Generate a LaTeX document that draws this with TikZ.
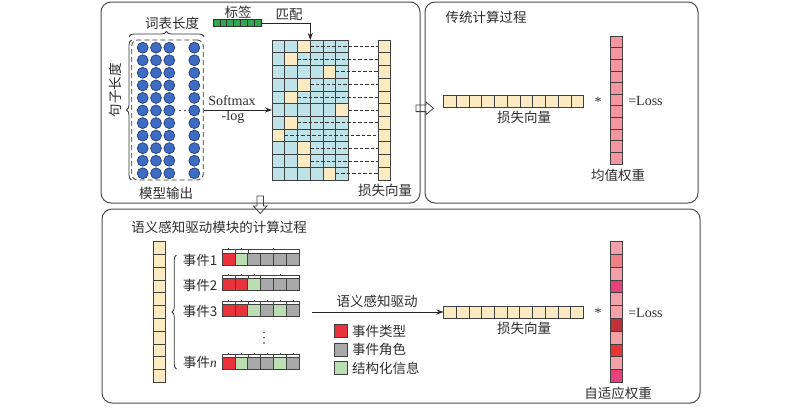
\documentclass[tikz,border=0pt]{standalone}
\usepackage{fontspec}
\setmainfont{Liberation Serif}
\newfontfamily\cjk{Noto Sans CJK SC}
\usetikzlibrary{arrows.meta,decorations.pathreplacing,calc}
\definecolor{gridblue}{RGB}{190,228,234}
\definecolor{beige}{RGB}{252,234,194}
\definecolor{pinkA}{RGB}{243,150,160}
\definecolor{lp}{RGB}{244,160,168}
\definecolor{sal}{RGB}{240,128,136}
\definecolor{mag}{RGB}{232,64,122}
\definecolor{dred}{RGB}{192,48,58}
\definecolor{redB}{RGB}{232,53,53}
\definecolor{evred}{RGB}{232,51,58}
\definecolor{evgreen}{RGB}{186,221,178}
\definecolor{evgrey}{RGB}{169,169,169}
\definecolor{lblgreen}{RGB}{50,168,78}
\definecolor{cblue}{RGB}{60,108,196}
\definecolor{cnavy}{RGB}{30,50,100}
\definecolor{txtc}{RGB}{45,45,45}
\newcommand\evbar[3]{%
  \foreach \col [count=\k from 0] in {#2}
    \draw[cellb, fill=\col] ({222+12.93*\k}, #1) rectangle ++(12.93,12);
  \foreach \a/\b in {#3} {
    \draw[stripb] ({222+12.93*\a}, #1-3.5) rectangle ({222+12.93*(\b+1)}, #1);
    \draw[stripb] ({222+12.93*(\a+\b+1)/2}, #1-3.5) -- ++(0,-1.5);
  }%
}
\begin{document}
\begin{tikzpicture}[x=1pt,y=-1pt,
  panel/.style={draw=black!70, line width=1pt, rounded corners=10pt},
  txt/.style={font=\fontsize{13.5}{15}\selectfont\cjk, text=txtc, inner sep=0pt},
  lat/.style={font=\fontsize{14}{16}\selectfont, text=txtc, inner sep=0pt},
  cellb/.style={draw=black!75, line width=0.8pt},
  stripb/.style={draw=black!75, line width=0.6pt, fill=white},
  circ/.style={circle, minimum size=11pt, inner sep=0pt, fill=cblue, draw=cnavy, line width=0.6pt},
  arr/.style={-{Stealth[length=7pt,width=5pt]}, line width=0.8pt, draw=black!85},
  dl/.style={draw=black!80, line width=0.8pt, dash pattern=on 3.5pt off 2pt},
  hollow/.style={draw=black!75, line width=0.8pt, line join=miter},
  brc/.style={decorate, decoration={brace, amplitude=5pt}, draw=black!80, line width=0.8pt},
]
\useasboundingbox (0,0) rectangle (800,408);

% panels
\draw[panel] (101,2) rectangle (420,203);
\draw[panel] (425,2) rectangle (698,203);
\draw[panel] (102,209) rectangle (700,403);

% hollow arrows
\draw[hollow] (257,196) -- (263.5,196) -- (263.5,206) -- (267,206) -- (260.2,213.5) -- (253.4,206) -- (257,206) -- cycle;
\draw[hollow] (416,105) -- (426,105) -- (426,102) -- (433.5,108.3) -- (426,114.6) -- (426,111.6) -- (416,111.6) -- cycle;

% ---------- top-left panel ----------
\node[txt] (vocab) at (172,23) {词表长度};
\node[txt, rotate=90] (sentlen) at (115,90) {句子长度};
\node[txt] (modelout) at (166,193) {模型输出};
\draw[brc] (129,36.5) -- (204,36.5);
\draw[brc] (131.5,180) -- (131.5,40);
\node[draw=black!80, dash pattern=on 5pt off 3pt, line width=0.8pt, rounded corners=6pt,
      minimum width=71.5pt, minimum height=140pt, inner sep=0pt] (mbox) at (167.5,110) {};
\foreach \r in {0,...,10}
  \foreach \cx [count=\i] in {142.7,156,169.3,194.3}
    \node[circ] (c\r-\i) at (\cx, 47.7+12.56*\r) {};
\fill[black!80] (180,110.5) circle (0.8) (185,110.5) circle (0.8);

\node[lat] (softmax) at (232,101) {Softmax};
\node[lat] (mlog) at (233,117) {-log};
\coordinate (gridw) at (272,110);
\draw[arr] (mbox.east) -- (gridw);

% label bar
\node[txt] (lbltxt) at (238,12) {标签};
\foreach \i in {0,...,6}
  \draw[draw=black!80, line width=0.6pt, fill=lblgreen] ({213+6.86*\i},19.5) rectangle ++(6.86,7);
\coordinate (lblend) at (261,23);
\coordinate (gridtop) at (310.25,40);
\node[txt] (match) at (289,15) {匹配};
\draw[arr] (lblend) -| (gridtop);

% grid
\foreach \r in {0,...,10}
  \foreach \c in {0,...,5}
    \draw[cellb, fill=gridblue] ({272+12.75*\c}, {40+12.727*\r}) rectangle ++(12.75,12.727);
\foreach \r/\h in {0/2,1/1,2/4,3/2,4/1,5/5,6/1,7/0,8/2,9/2,10/4} {
  \draw[cellb, fill=beige] ({272+12.75*\h}, {40+12.727*\r}) rectangle ++(12.75,12.727);
  \draw[dl] ({272+12.75*(\h+1)}, {40+12.727*(\r+0.5)}) -- (378.5, {40+12.727*(\r+0.5)});
}
\foreach \r in {0,...,10}
  \draw[cellb, fill=beige] (378.5, {40+12.727*\r}) rectangle ++(12,12.727);
\node[txt] (lossv1) at (385,190) {损失向量};

% ---------- top-right panel ----------
\node[txt] (trad) at (486,17) {传统计算过程};
\foreach \i in {0,...,10}
  \draw[cellb, fill=beige] ({443.5+12.75*\i}, 95) rectangle ++(12.75,12);
\node[txt] (lossv2) at (524,117) {损失向量};
\node[lat] (star1) at (598,101.5) {*};
\foreach \i in {0,...,10}
  \draw[cellb, fill=pinkA] (610, {36+11.64*\i}) rectangle ++(12.7,11.64);
\node[lat] (loss1) at (645.5,101) {=Loss};
\node[txt] (meanw) at (618,175) {均值权重};

% ---------- bottom panel ----------
\node[txt] (semtitle) at (219,227) {语义感知驱动模块的计算过程};
\foreach \i in {0,...,10}
  \draw[cellb, fill=beige] (153, {241.7+12.78*\i}) rectangle ++(12,12.78);
\draw[brc, decoration={brace, amplitude=4.5pt}] (176.5,369) -- (176.5,255);

\node[txt] (ev1) at (200,260) {事件1};
\node[txt] (ev2) at (200,285) {事件2};
\node[txt] (ev3) at (200,311) {事件3};
\node[txt] (evn) at (200,362) {事件\textit{\fontspec{Liberation Serif}n}};

\evbar{253}{evred,evgreen,evgrey,evgrey,evgrey,evgrey}{0/0,1/1,2/5}
\evbar{278.5}{evred,evred,evgreen,evgrey,evgrey,evgrey}{0/0,1/1,2/2,3/5}
\evbar{304.5}{evred,evred,evgreen,evgrey,evgreen,evgrey}{0/0,1/1,2/2,3/3,4/4,5/5}
\evbar{357.5}{evred,evgreen,evgrey,evgrey,evgreen,evgrey}{0/0,1/1,2/2,3/3,4/4,5/5}
\fill[black!80] (264,332.3) circle (0.8) (264,337.7) circle (0.8) (264,343) circle (0.8);

\coordinate (semstart) at (311.5,312);
\coordinate (lv3w) at (443.5,312);
\draw[arr] (semstart) -- (lv3w);
\node[txt] (semdrive) at (377,301) {语义感知驱动};

\draw[cellb, fill=evred] (334.5,324.5) rectangle ++(13,13);
\draw[cellb, fill=evgrey] (334.5,343) rectangle ++(13,13);
\draw[cellb, fill=evgreen] (334.5,361.5) rectangle ++(13,13);
\node[txt, anchor=west] (lg1) at (352,331) {事件类型};
\node[txt, anchor=west] (lg2) at (352,349.5) {事件角色};
\node[txt, anchor=west] (lg3) at (352,368) {结构化信息};

\foreach \i in {0,...,10}
  \draw[cellb, fill=beige] ({443.5+12.73*\i}, 306) rectangle ++(12.73,12);
\node[txt] (lossv3) at (524,328) {损失向量};
\node[lat] (star2) at (598,313) {*};
\foreach \col [count=\i from 0] in {lp,sal,lp,mag,lp,lp,dred,lp,redB,lp,mag}
  \draw[cellb, fill=\col] (610, {241.7+12.78*\i}) rectangle ++(12.7,12.78);
\node[lat] (loss2) at (645.5,313) {=Loss};
\node[txt] (adaptw) at (618,393) {自适应权重};
\end{tikzpicture}
\end{document}
